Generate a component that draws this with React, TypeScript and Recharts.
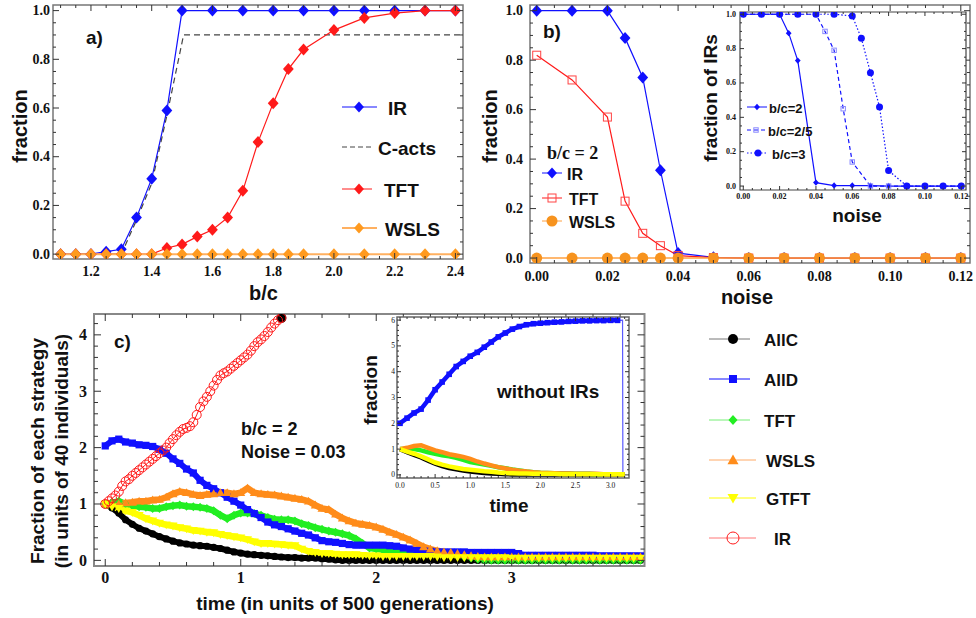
import React from "react";
import { LineChart, Line, XAxis, YAxis, ReferenceArea } from "recharts";

const SANS = "'Liberation Sans', Arial, Helvetica, sans-serif";
const SERIF = "'Liberation Serif', 'Times New Roman', serif";

const steps = (a: number, b: number, d: number) => {
  const out: number[] = [];
  for (let i = 0; a + i * d <= b + 1e-9; i++) out.push(+(a + i * d).toFixed(4));
  return out;
};
const pts = (xs: number[], ys: number[]) => xs.map((x, i) => ({ x, y: ys[i] }));

// ── a) fraction vs b/c ───────────────────────────────────────────
const bcA = [1.1, 1.15, 1.2, 1.25, 1.3, 1.35, 1.4, 1.45, 1.5, 1.55, 1.6, 1.65, 1.7, 1.75, 1.8, 1.85, 1.9, 2.0, 2.1, 2.2, 2.3, 2.4];
const bcIrA = [1.1, 1.15, 1.2, 1.25, 1.3, 1.35, 1.4, 1.45, 1.5, 1.6, 1.7, 1.8, 1.9, 2.0, 2.1, 2.2, 2.3, 2.4];
const irA = [0, 0, 0, 0.01, 0.02, 0.15, 0.31, 0.59, 1, 1, 1, 1, 1, 1, 1, 1, 1, 1];
const bcCactsA = [1.1, 1.2, 1.3, 1.35, 1.4, 1.45, 1.505, 2.425];
const cactsA = [0, 0, 0, 0.14, 0.29, 0.57, 0.9, 0.9];
const tftA = [0, 0, 0, 0, 0, 0, 0, 0.025, 0.04, 0.072, 0.1, 0.15, 0.26, 0.46, 0.62, 0.76, 0.84, 0.92, 0.97, 0.99, 1, 1];
const wslsA = [0, 0, 0, 0, 0, 0, 0, 0, 0, 0, 0, 0, 0, 0, 0, 0, 0, 0, 0, 0, 0, 0];
const xTicksA = [1.2, 1.4, 1.6, 1.8, 2.0, 2.2, 2.4];
const yTicksA = [0, 0.2, 0.4, 0.6, 0.8, 1.0];

// ── b) fraction vs noise ─────────────────────────────────────────
const noiseB = [0, 0.01, 0.02, 0.025, 0.03, 0.035, 0.04, 0.05, 0.06, 0.07, 0.08, 0.09, 0.1, 0.11, 0.12];
const irB = [1, 1, 1, 0.89, 0.73, 0.355, 0.02, 0.003, 0, 0, 0, 0, 0, 0, 0];
const tftB = [0.82, 0.72, 0.57, 0.23, 0.1, 0.05, 0.01, 0.002, 0, 0, 0, 0, 0, 0, 0];
const wslsB = [0, 0, 0, 0, 0, 0, 0, 0, 0, 0, 0, 0, 0, 0, 0];
const xTicksB = [0, 0.02, 0.04, 0.06, 0.08, 0.1, 0.12];

// inset of b): fraction of IRs
const noise2 = [0, 0.01, 0.02, 0.025, 0.03, 0.04, 0.05, 0.06, 0.07, 0.08, 0.09, 0.1, 0.11, 0.12];
const bc2 = [1, 1, 1, 0.89, 0.73, 0.02, 0.003, 0.003, 0.002, 0, 0, 0, 0, 0];
const noise25 = [0, 0.01, 0.02, 0.03, 0.04, 0.045, 0.05, 0.055, 0.06, 0.07, 0.08, 0.09, 0.1, 0.11, 0.12];
const bc25 = [1, 1, 1, 1, 1, 0.9, 0.79, 0.45, 0.14, 0, 0, 0, 0, 0, 0];
const noise3 = [0, 0.01, 0.02, 0.03, 0.04, 0.05, 0.06, 0.065, 0.07, 0.075, 0.08, 0.09, 0.1, 0.11, 0.12];
const bc3 = [1, 1, 1, 1, 1, 1, 0.99, 0.86, 0.66, 0.46, 0.09, 0, 0, 0, 0];

// ── c) time evolution ────────────────────────────────────────────
const tC = steps(0, 3.95, 0.05);
const allC = [
  1.0, 0.93, 0.84, 0.72, 0.64, 0.57, 0.52, 0.47, 0.42, 0.38,
  0.34, 0.31, 0.29, 0.27, 0.26, 0.25, 0.23, 0.21, 0.18, 0.15,
  0.13, 0.11, 0.1, 0.09, 0.08, 0.07, 0.06, 0.05, 0.05, 0.04,
  0.04, 0.04, 0.03, 0.02, 0.01, 0, 0, 0, 0, 0,
  0, 0, 0, 0, 0, 0, 0, 0, 0, 0,
  0, 0, 0, 0, 0, 0, 0, 0, 0, 0,
  0, 0, 0, 0, 0, 0, 0, 0, 0, 0,
  0, 0, 0, 0, 0, 0, 0, 0, 0, 0,
];
const allD = [
  2.03, 2.12, 2.15, 2.1, 2.08, 2.05, 2.04, 2.02, 1.97, 1.9,
  1.8, 1.72, 1.62, 1.55, 1.42, 1.33, 1.27, 1.2, 1.12, 1.05,
  0.98, 0.9, 0.83, 0.76, 0.68, 0.63, 0.6, 0.56, 0.52, 0.48,
  0.45, 0.4, 0.35, 0.33, 0.32, 0.3, 0.28, 0.27, 0.27, 0.27,
  0.27, 0.27, 0.26, 0.25, 0.22, 0.2, 0.18, 0.17, 0.16, 0.15,
  0.15, 0.15, 0.15, 0.15, 0.14, 0.14, 0.14, 0.14, 0.14, 0.14,
  0.14, 0.12, 0.09, 0.09, 0.09, 0.09, 0.09, 0.09, 0.09, 0.09,
  0.09, 0.09, 0.09, 0.08, 0.08, 0.08, 0.08, 0.08, 0.08, 0.08,
];
const tftC = [
  1.0, 1.02, 1.05, 1.0, 0.97, 0.95, 0.94, 0.92, 0.92, 0.95,
  0.97, 0.98, 0.96, 0.95, 0.94, 0.92, 0.88, 0.8, 0.74, 0.8,
  0.84, 0.84, 0.83, 0.8, 0.76, 0.73, 0.72, 0.72, 0.7, 0.65,
  0.62, 0.58, 0.55, 0.52, 0.5, 0.47, 0.44, 0.38, 0.3, 0.22,
  0.2, 0.19, 0.18, 0.18, 0.17, 0.16, 0.15, 0.14, 0.13, 0.12,
  0.11, 0.1, 0.08, 0.06, 0.04, 0.02, 0, 0, 0, 0,
  0, 0, 0, 0, 0, 0, 0, 0, 0, 0,
  0, 0, 0, 0, 0, 0, 0, 0, 0, 0,
];
const wslsC = [
  1.0, 1.0, 1.0, 1.02, 1.03, 1.05, 1.05, 1.07, 1.08, 1.12,
  1.18, 1.22, 1.2, 1.17, 1.15, 1.17, 1.18, 1.2, 1.2, 1.18,
  1.2, 1.28, 1.2, 1.18, 1.17, 1.16, 1.14, 1.12, 1.1, 1.08,
  1.05, 0.98, 0.92, 0.9, 0.82, 0.75, 0.7, 0.66, 0.64, 0.62,
  0.59, 0.55, 0.5, 0.46, 0.41, 0.36, 0.3, 0.24, 0.2, 0.17,
  0.15, 0.14, 0.12, 0.1, 0.08, 0.07, 0.06, 0.06, 0.06, 0.06,
  0.06, 0.06, 0.06, 0.06, 0.06, 0.06, 0.06, 0.06, 0.06, 0.06,
  0.06, 0.06, 0.06, 0.06, 0.06, 0.06, 0.06, 0.06, 0.06, 0.06,
];
const gtftC = [
  1.0, 0.95, 0.92, 0.88, 0.85, 0.8, 0.74, 0.7, 0.66, 0.63,
  0.61, 0.58, 0.56, 0.53, 0.52, 0.5, 0.49, 0.46, 0.44, 0.42,
  0.4, 0.37, 0.33, 0.3, 0.3, 0.29, 0.28, 0.27, 0.26, 0.2,
  0.16, 0.14, 0.12, 0.12, 0.11, 0.1, 0.1, 0.1, 0.09, 0.08,
  0.08, 0.07, 0.07, 0.07, 0.07, 0.07, 0.07, 0.07, 0.07, 0.06,
  0.05, 0.05, 0.05, 0.05, 0.05, 0.05, 0.05, 0.05, 0.05, 0.05,
  0.04, 0.04, 0.04, 0.04, 0.04, 0.04, 0.04, 0.04, 0.04, 0.04,
  0.04, 0.04, 0.04, 0.04, 0.04, 0.04, 0.04, 0.04, 0.04, 0.04,
];
const tIR = steps(0, 1.3, 0.025);
const irC = [
  1.0, 1.05, 1.1, 1.15, 1.22, 1.32, 1.4, 1.44, 1.5, 1.55,
  1.6, 1.65, 1.7, 1.75, 1.8, 1.85, 1.9, 1.95, 2.0, 2.08,
  2.15, 2.22, 2.28, 2.33, 2.35, 2.38, 2.45, 2.58, 2.72, 2.82,
  2.9, 3.0, 3.1, 3.2, 3.28, 3.32, 3.35, 3.4, 3.45, 3.5,
  3.55, 3.6, 3.65, 3.72, 3.8, 3.87, 3.92, 3.98, 4.05, 4.13,
  4.2, 4.26, 4.3,
];
const tEndC = [1.3];
const allCEnd = [4.3];

// inset of c): without IRs
const tIn = steps(0, 3.2, 0.1);
const tInD = steps(0, 3.1, 0.1);
const allDIn = [
  2.0, 2.2, 2.4, 2.55, 2.9, 3.3, 3.6, 3.9, 4.2, 4.4,
  4.6, 4.75, 4.95, 5.15, 5.35, 5.5, 5.65, 5.75, 5.82, 5.86,
  5.88, 5.9, 5.92, 5.93, 5.95, 5.96, 5.97, 5.97, 5.98, 5.98,
  5.99, 5.99,
];
const tDrop = [3.1, 3.17, 3.175];
const allDDrop = [5.99, 6.0, 0];
const allCIn = [
  1.0, 0.88, 0.78, 0.68, 0.55, 0.44, 0.34, 0.27, 0.22, 0.17,
  0.13, 0.1, 0.07, 0.05, 0.04, 0.03, 0.02, 0.02, 0.02, 0.02,
  0.02, 0.02, 0.02, 0.02, 0.02, 0.02, 0.02, 0.02, 0.02, 0.02,
  0.02, 0.02, 0.02,
];
const tftIn = [
  1.0, 1.0, 1.0, 0.95, 0.88, 0.82, 0.76, 0.72, 0.66, 0.58,
  0.5, 0.45, 0.4, 0.35, 0.3, 0.26, 0.21, 0.17, 0.13, 0.1,
  0.08, 0.07, 0.06, 0.05, 0.05, 0.04, 0.04, 0.04, 0.03, 0.03,
  0.03, 0.03, 0.03,
];
const wslsIn = [
  1.0, 1.05, 1.12, 1.15, 1.05, 0.95, 0.88, 0.8, 0.75, 0.7,
  0.62, 0.52, 0.44, 0.37, 0.3, 0.25, 0.2, 0.16, 0.13, 0.1,
  0.08, 0.07, 0.06, 0.05, 0.05, 0.04, 0.04, 0.04, 0.04, 0.03,
  0.03, 0.03, 0.03,
];
const gtftIn = [
  1.0, 0.9, 0.82, 0.72, 0.6, 0.48, 0.4, 0.33, 0.28, 0.23,
  0.2, 0.17, 0.14, 0.12, 0.09, 0.07, 0.06, 0.05, 0.05, 0.04,
  0.04, 0.04, 0.04, 0.03, 0.03, 0.03, 0.03, 0.03, 0.03, 0.03,
  0.03, 0.03, 0.03,
];

const BLUE = "#1010ff";
const RED = "#ff1a1a";
const ORANGE = "#ff8c1a";
const GREEN = "#22ee22";
const YELLOW = "#ffff00";

// ── marker shapes ────────────────────────────────────────────────
function mark(kind: string, cx: number, cy: number, s: number, color: string) {
  switch (kind) {
    case "diamond":
      return <polygon points={`${cx},${cy - s} ${cx + s * 0.9},${cy} ${cx},${cy + s} ${cx - s * 0.9},${cy}`} fill={color} />;
    case "square":
      return <rect x={cx - s} y={cy - s} width={2 * s} height={2 * s} fill={color} />;
    case "osquare":
      return <rect x={cx - s} y={cy - s} width={2 * s} height={2 * s} fill="none" stroke={color} strokeWidth={1} />;
    case "circle":
      return <circle cx={cx} cy={cy} r={s} fill={color} />;
    case "ocircle":
      return <circle cx={cx} cy={cy} r={s} fill="none" stroke={color} strokeWidth={1} />;
    case "tri":
      return <polygon points={`${cx},${cy - s} ${cx + s},${cy + s * 0.75} ${cx - s},${cy + s * 0.75}`} fill={color} />;
    case "itri":
      return <polygon points={`${cx},${cy + s} ${cx + s},${cy - s * 0.75} ${cx - s},${cy - s * 0.75}`} fill={color} />;
  }
  return null;
}
const dots = (kind: string, s: number, color: string) => (p: any) => {
  if (p.cx == null || p.cy == null) return <g key={p.index} />;
  return <g key={p.index}>{mark(kind, p.cx, p.cy, s, color)}</g>;
};

// ── generic framed panel (ticks inward on all four sides) ────────
type Cfg = {
  left: number; top: number; w: number; h: number;
  pl: number; pt: number; pr: number; pb: number;
  xd: [number, number]; yd: [number, number];
  xMaj: number[]; yMaj: number[]; xMin: number[]; yMin: number[];
  xFmt: (v: number) => string; yFmt: (v: number) => string;
  fs: number; weight: string | number; xdy: number; ydx: number;
  big: number; small: number; frame: string; fw: number; bg?: boolean;
};
const isIn = (arr: number[], v: number) => arr.some((m) => Math.abs(m - v) < 1e-7);
const merge = (a: number[], b: number[]) =>
  [...a, ...b.filter((v) => !isIn(a, v))].sort((p, q) => p - q);

function Panel({ c, children }: { c: Cfg; children: React.ReactNode }) {
  const xTick = (p: any) => {
    const v = p.payload.value;
    const x = p.x;
    const maj = isIn(c.xMaj, v);
    const L = maj ? c.big : c.small;
    return (
      <g>
        <line x1={x} x2={x} y1={c.pb} y2={c.pb - L} stroke="#333" />
        <line x1={x} x2={x} y1={c.pt} y2={c.pt + L} stroke="#333" />
        {maj && (
          <text x={x} y={c.pb + c.xdy} textAnchor="middle" fontFamily={SERIF} fontWeight={c.weight} fontSize={c.fs} fill="#111">
            {c.xFmt(v)}
          </text>
        )}
      </g>
    );
  };
  const yTick = (p: any) => {
    const v = p.payload.value;
    const y = p.y;
    const maj = isIn(c.yMaj, v);
    const L = maj ? c.big : c.small;
    return (
      <g>
        <line x1={c.pl} x2={c.pl + L} y1={y} y2={y} stroke="#333" />
        <line x1={c.pr} x2={c.pr - L} y1={y} y2={y} stroke="#333" />
        {maj && (
          <text x={c.pl - c.ydx} y={y} textAnchor="end" dominantBaseline="central" fontFamily={SERIF} fontWeight={c.weight} fontSize={c.fs} fill="#111">
            {c.yFmt(v)}
          </text>
        )}
      </g>
    );
  };
  return (
    <div style={{ position: "absolute", left: c.left, top: c.top, width: c.w, height: c.h }}>
      {c.bg && (
        <div style={{ position: "absolute", left: c.pl, top: c.pt, width: c.pr - c.pl, height: c.pb - c.pt, background: "#fff" }} />
      )}
      <LineChart width={c.w} height={c.h} margin={{ top: c.pt, right: c.w - c.pr, bottom: 0, left: 0 }}>
        <XAxis
          type="number" dataKey="x" domain={c.xd} allowDataOverflow
          ticks={merge(c.xMaj, c.xMin)} interval={0}
          axisLine={false} tickLine={false} tick={xTick} height={c.h - c.pb}
        />
        <YAxis
          type="number" domain={c.yd} allowDataOverflow
          ticks={merge(c.yMaj, c.yMin)} interval={0}
          axisLine={false} tickLine={false} tick={yTick} width={c.pl}
        />
        {children}
        <ReferenceArea x1={c.xd[0]} x2={c.xd[1]} y1={c.yd[0]} y2={c.yd[1]} fill="none" stroke={c.frame} strokeWidth={c.fw} />
      </LineChart>
    </div>
  );
}

const cfgA: Cfg = {
  left: 0, top: 0, w: 480, h: 300, pl: 53, pt: 5, pr: 463, pb: 259,
  xd: [1.075, 2.425], yd: [-0.02, 1.023],
  xMaj: xTicksA, yMaj: yTicksA, xMin: steps(1.1, 2.4, 0.05), yMin: steps(0, 1, 0.05),
  xFmt: (v) => v.toFixed(1), yFmt: (v) => v.toFixed(1),
  fs: 14, weight: "bold", xdy: 17, ydx: 3, big: 6, small: 3, frame: "#777", fw: 1.5,
};
const cfgB: Cfg = {
  left: 480, top: 0, w: 496, h: 300, pl: 50, pt: 5, pr: 490, pb: 263,
  xd: [-0.0019, 0.1226], yd: [-0.02, 1.023],
  xMaj: xTicksB, yMaj: yTicksA, xMin: steps(0, 0.12, 0.005), yMin: steps(0, 1, 0.05),
  xFmt: (v) => v.toFixed(2), yFmt: (v) => v.toFixed(1),
  fs: 14, weight: "bold", xdy: 18, ydx: 7, big: 6, small: 3, frame: "#777", fw: 1.5,
};
const cfgBi: Cfg = {
  left: 700, top: 0, w: 276, h: 230, pl: 40, pt: 12, pr: 266, pb: 190,
  xd: [-0.0018, 0.1226], yd: [-0.023, 1.013],
  xMaj: xTicksB, yMaj: yTicksA, xMin: steps(0, 0.12, 0.005), yMin: steps(0, 1, 0.05),
  xFmt: (v) => v.toFixed(2), yFmt: (v) => v.toFixed(1),
  fs: 8, weight: "bold", xdy: 9, ydx: 4, big: 4, small: 2, frame: "#444", fw: 1.2, bg: true,
};
const cfgC: Cfg = {
  left: 0, top: 300, w: 680, h: 318, pl: 94, pt: 14, pr: 644.5, pb: 266,
  xd: [-0.083, 3.98], yd: [-0.1, 4.37],
  xMaj: [0, 1, 2, 3], yMaj: [0, 1, 2, 3, 4], xMin: steps(0, 3.8, 0.2), yMin: steps(0, 4.2, 0.2),
  xFmt: (v) => String(v), yFmt: (v) => String(v),
  fs: 16, weight: "bold", xdy: 17, ydx: 7, big: 7, small: 4, frame: "#888", fw: 2,
};
const cfgCi: Cfg = {
  left: 360, top: 300, w: 280, h: 220, pl: 37, pt: 17, pr: 269, pb: 178,
  xd: [-0.043, 3.262], yd: [-0.12, 6.12],
  xMaj: [0, 0.5, 1, 1.5, 2, 2.5, 3], yMaj: [0, 1, 2, 3, 4, 5, 6], xMin: steps(0, 3.2, 0.1), yMin: steps(0, 6, 0.2),
  xFmt: (v) => v.toFixed(1), yFmt: (v) => String(v),
  fs: 7.5, weight: "normal", xdy: 10, ydx: 2, big: 4, small: 2, frame: "#666", fw: 1.5, bg: true,
};

// ── overlay texts and legends ────────────────────────────────────
function T({ x, y, s = 19, a = "start", f = SANS, rot = false, children }: any) {
  if (rot)
    return (
      <text transform={`translate(${x},${y}) rotate(-90)`} textAnchor="middle" dominantBaseline="central" fontFamily={f} fontWeight="bold" fontSize={s} fill="#111">
        {children}
      </text>
    );
  return (
    <text x={x} y={y} textAnchor={a} dominantBaseline="central" fontFamily={f} fontWeight="bold" fontSize={s} fill="#111">
      {children}
    </text>
  );
}
function Key({ x1, x2, y, mx, kind, ms, color, line, dash, lw = 1, tx, s, label }: any) {
  return (
    <g>
      <line x1={x1} x2={x2} y1={y} y2={y} stroke={line} strokeWidth={lw} strokeDasharray={dash} />
      {kind && mark(kind, mx, y, ms, color)}
      <T x={tx} y={y + 1} s={s}>{label}</T>
    </g>
  );
}

export default function App() {
  return (
    <div style={{ position: "absolute", left: 0, top: 0, width: 976, height: 618, background: "#fff", overflow: "hidden" }}>
      <Panel c={cfgA}>
        <Line data={pts(bcIrA, irA)} dataKey="y" type="linear" stroke={BLUE} strokeWidth={1.2} dot={dots("diamond", 6, BLUE)} isAnimationActive={false} />
        <Line data={pts(bcCactsA, cactsA)} dataKey="y" type="linear" stroke="#444" strokeWidth={1.2} strokeDasharray="6 4" dot={false} isAnimationActive={false} />
        <Line data={pts(bcA, tftA)} dataKey="y" type="linear" stroke={RED} strokeWidth={1.2} dot={dots("diamond", 6, RED)} isAnimationActive={false} />
        <Line data={pts(bcA, wslsA)} dataKey="y" type="linear" stroke="#ffb060" strokeWidth={2} dot={dots("diamond", 6, "#ff9a1f")} isAnimationActive={false} />
      </Panel>

      <Panel c={cfgB}>
        <Line data={pts(noiseB, irB)} dataKey="y" type="linear" stroke={BLUE} strokeWidth={1.2} dot={dots("diamond", 6, BLUE)} isAnimationActive={false} />
        <Line data={pts(noiseB, tftB)} dataKey="y" type="linear" stroke={RED} strokeWidth={1.2} dot={dots("osquare", 4, "#f44")} isAnimationActive={false} />
        <Line data={pts(noiseB, wslsB)} dataKey="y" type="linear" stroke="#ffa040" strokeWidth={1.5} dot={dots("circle", 5.5, "#f7931e")} isAnimationActive={false} />
      </Panel>

      <Panel c={cfgBi}>
        <Line data={pts(noise2, bc2)} dataKey="y" type="linear" stroke={BLUE} strokeWidth={1.2} dot={dots("diamond", 3.2, BLUE)} isAnimationActive={false} />
        <Line data={pts(noise25, bc25)} dataKey="y" type="linear" stroke={BLUE} strokeWidth={1.2} strokeDasharray="4 3" dot={dots("osquare", 2.2, "#8888ff")} isAnimationActive={false} />
        <Line data={pts(noise3, bc3)} dataKey="y" type="linear" stroke={BLUE} strokeWidth={1.2} strokeDasharray="1.5 2" dot={dots("circle", 3.5, BLUE)} isAnimationActive={false} />
      </Panel>

      <Panel c={cfgC}>
        <Line data={pts(tC, allC)} dataKey="y" type="linear" stroke="#000" strokeWidth={6} dot={dots("circle", 3.6, "#000")} isAnimationActive={false} />
        <Line data={pts(tC, tftC)} dataKey="y" type="linear" stroke={GREEN} strokeWidth={6.5} dot={dots("diamond", 4.5, GREEN)} isAnimationActive={false} />
        <Line data={pts(tC, allD)} dataKey="y" type="linear" stroke={BLUE} strokeWidth={6} dot={dots("square", 3.6, BLUE)} isAnimationActive={false} />
        <Line data={pts(tC, wslsC)} dataKey="y" type="linear" stroke={ORANGE} strokeWidth={6.5} dot={dots("tri", 4.5, ORANGE)} isAnimationActive={false} />
        <Line data={pts(tC, gtftC)} dataKey="y" type="linear" stroke={YELLOW} strokeWidth={6.5} dot={dots("itri", 4.5, YELLOW)} isAnimationActive={false} />
        <Line data={pts(tEndC, allCEnd)} dataKey="y" type="linear" stroke="#000" dot={dots("circle", 5, "#000")} isAnimationActive={false} />
        <Line data={pts(tIR, irC)} dataKey="y" type="linear" stroke={RED} strokeWidth={1} dot={dots("ocircle", 4.5, RED)} isAnimationActive={false} />
      </Panel>

      <Panel c={cfgCi}>
        <Line data={pts(tDrop, allDDrop)} dataKey="y" type="linear" stroke="#5a5aff" strokeWidth={1.2} dot={false} isAnimationActive={false} />
        <Line data={pts(tInD, allDIn)} dataKey="y" type="linear" stroke={BLUE} strokeWidth={4.5} dot={dots("square", 2.8, BLUE)} isAnimationActive={false} />
        <Line data={pts(tIn, allCIn)} dataKey="y" type="linear" stroke="#000" strokeWidth={4.5} dot={false} isAnimationActive={false} />
        <Line data={pts(tIn, tftIn)} dataKey="y" type="linear" stroke={GREEN} strokeWidth={4.5} dot={false} isAnimationActive={false} />
        <Line data={pts(tIn, wslsIn)} dataKey="y" type="linear" stroke={ORANGE} strokeWidth={4.5} dot={false} isAnimationActive={false} />
        <Line data={pts(tIn, gtftIn)} dataKey="y" type="linear" stroke={YELLOW} strokeWidth={4.5} dot={false} isAnimationActive={false} />
      </Panel>

      <svg width={976} height={618} style={{ position: "absolute", left: 0, top: 0, pointerEvents: "none" }}>
        {/* a) */}
        <T x={86} y={37} s={19}>a)</T>
        <T x={19.5} y={126} s={20} rot>fraction</T>
        <T x={263.5} y={293} s={20} a="middle">b/c</T>
        <Key x1={342} x2={377} y={107} mx={359} kind="diamond" ms={5.5} color={BLUE} line={BLUE} tx={388} s={19} label="IR" />
        <Key x1={342} x2={372} y={147} line="#444" dash="5 3" tx={378} s={19} label="C-acts" />
        <Key x1={342} x2={372} y={189} mx={359} kind="diamond" ms={5.5} color={RED} line={RED} tx={384} s={19} label="TFT" />
        <Key x1={342} x2={377} y={228} mx={359} kind="diamond" ms={5.5} color="#ff9a1f" line="#ffb060" lw={2} tx={385} s={19} label="WSLS" />

        {/* b) */}
        <T x={543} y={31} s={19}>b)</T>
        <T x={490} y={126} s={20} rot>fraction</T>
        <T x={747} y={297} s={20} a="middle">noise</T>
        <T x={547} y={153} s={18} f={SERIF}>b/c = 2</T>
        <Key x1={542} x2={562} y={173} mx={552} kind="diamond" ms={5.5} color={BLUE} line={BLUE} tx={567} s={16} label="IR" />
        <Key x1={542} x2={562} y={198} mx={552} kind="osquare" ms={4} color="#f44" line={RED} tx={569} s={16} label="TFT" />
        <Key x1={542} x2={562} y={221} mx={552} kind="circle" ms={5.5} color="#f7931e" line="#ffa040" tx={569} s={16} label="WSLS" />
        <T x={710} y={98} s={19} rot>fraction of IRs</T>
        <T x={857} y={215} s={19} a="middle">noise</T>
        <Key x1={747} x2={767} y={107} mx={757} kind="diamond" ms={3.2} color={BLUE} line={BLUE} tx={769} s={13} label="b/c=2" />
        <Key x1={747} x2={765} y={130} mx={756} kind="osquare" ms={2.2} color="#8888ff" line={BLUE} dash="4 3" tx={768} s={13} label="b/c=2/5" />
        <Key x1={747} x2={768} y={153} mx={758} kind="circle" ms={3.5} color={BLUE} line={BLUE} dash="1.5 2" tx={772} s={13} label="b/c=3" />

        {/* c) */}
        <T x={114} y={341} s={19}>c)</T>
        <T x={37.5} y={451} s={19} rot>Fraction of each strategy</T>
        <T x={61.5} y={451} s={19} rot>(in units of 40 individuals)</T>
        <T x={345} y={603} s={19} a="middle">time (in units of 500 generations)</T>
        <T x={241} y={429} s={18}>b/c = 2</T>
        <T x={241} y={452} s={18}>Noise = 0.03</T>
        <T x={497} y={391} s={19}>without IRs</T>
        <T x={370} y={390} s={19} rot>fraction</T>
        <T x={509} y={505} s={19} a="middle">time</T>
        <Key x1={709} x2={750} y={339} mx={733} kind="circle" ms={5} color="#000" line="#777" tx={764} s={17} label="AllC" />
        <Key x1={709} x2={750} y={379} mx={733} kind="square" ms={4} color={BLUE} line={BLUE} tx={764} s={17} label="AllD" />
        <Key x1={709} x2={750} y={420} mx={733} kind="diamond" ms={5} color={GREEN} line="#77ee77" tx={764} s={17} label="TFT" />
        <Key x1={709} x2={756} y={460} mx={733} kind="tri" ms={5.5} color={ORANGE} line="#ffaa66" tx={766} s={17} label="WSLS" />
        <Key x1={709} x2={756} y={498} mx={733} kind="itri" ms={5.5} color={YELLOW} line={YELLOW} tx={766} s={17} label="GTFT" />
        <Key x1={709} x2={756} y={538} mx={733} kind="ocircle" ms={6} color={RED} line="#ff7777" tx={774} s={17} label="IR" />
      </svg>
    </div>
  );
}
